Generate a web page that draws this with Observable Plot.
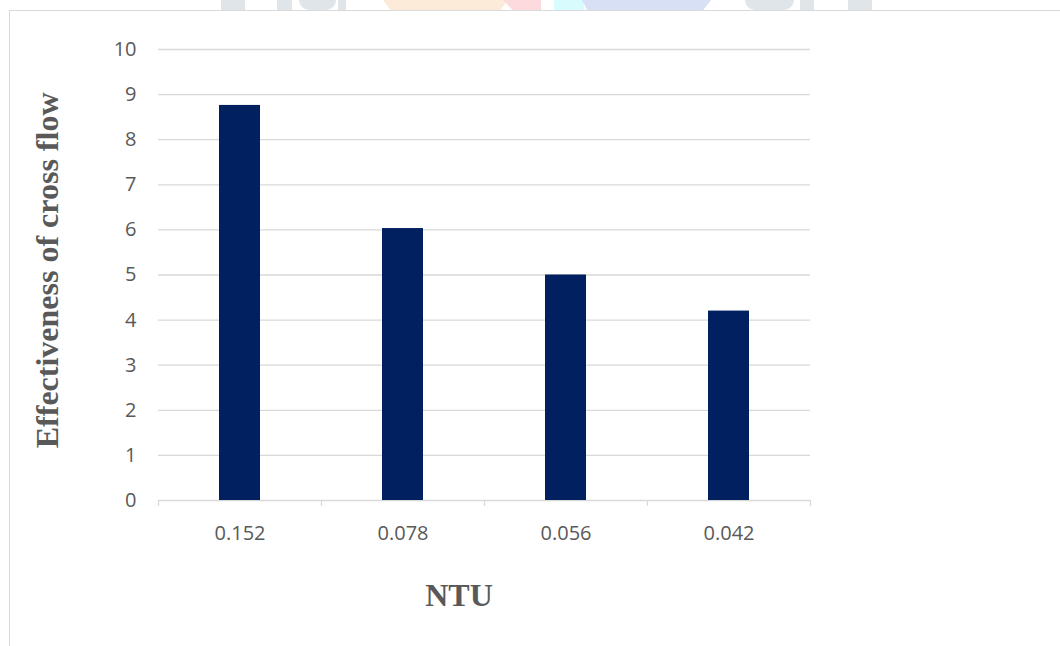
<!DOCTYPE html>
<html>
<head>
<meta charset="utf-8">
<script src="https://cdn.jsdelivr.net/npm/d3@7"></script>
<script src="https://cdn.jsdelivr.net/npm/@observablehq/plot@0.6"></script>
<style>
  html, body { margin: 0; padding: 0; background: #fff; }
  #wrap { position: relative; width: 1060px; height: 646px; overflow: hidden; }
  #frame { position: absolute; left: 9px; top: 10px; right: -2px; bottom: -2px;
           border-left: 1.5px solid #d9d9d9; border-top: 1.5px solid #d9d9d9; }
  #mark { position: absolute; left: 0; top: 0; width: 1060px; height: 10px; }
  #mark span { position: absolute; top: 0; height: 10px; }
  #chart { position: absolute; left: 0; top: 0; }
</style>
</head>
<body>
<div id="wrap">
  <div id="mark">
    <span style="left:221px;width:24px;background:#dfe5e8"></span>
    <span style="left:277px;width:15px;background:#dfe5e8"></span>
    <span style="left:299px;width:37px;background:#dfe5e8;border-radius:0 0 18px 18px"></span>
    <span style="left:338px;width:8px;background:#dfe5e8"></span>
    <span style="left:383px;width:125px;background:#fdebd9;clip-path:polygon(0 0,100% 0,94% 100%,6% 100%)"></span>
    <span style="left:503px;width:38px;background:#fddadd;clip-path:polygon(0 0,100% 0,100% 100%,25% 100%)"></span>
    <span style="left:554px;width:30px;background:#d8fbfd"></span>
    <span style="left:582px;width:129px;background:#d8e0f5;clip-path:polygon(0 0,100% 0,94% 100%,4% 100%)"></span>
    <span style="left:745px;width:49px;background:#dfe5e8;border-radius:0 0 22px 22px"></span>
    <span style="left:800px;width:14px;background:#dfe5e8"></span>
    <span style="left:848px;width:24px;background:#dfe5e8"></span>
  </div>
  <div id="frame"></div>
  <div id="chart"></div>
</div>
<script>
// NTU categories and the measured effectiveness of the cross-flow exchanger
const ntu = ["0.152", "0.078", "0.056", "0.042"];
const effectiveness = [8.76, 6.03, 5.0, 4.2];
const yTicks = [0, 1, 2, 3, 4, 5, 6, 7, 8, 9, 10];

const data = ntu.map((n, i) => ({ntu: n, eff: effectiveness[i]}));

const W = 1060, H = 646;
const mL = 158, mR = 250, mT = 49, mB = 146;
const step = (W - mL - mR) / ntu.length;

const grey = "#595959";
const serif = "'Liberation Serif', 'Times New Roman', serif";

const chart = Plot.plot({
  width: W,
  height: H,
  marginLeft: mL,
  marginRight: mR,
  marginTop: mT,
  marginBottom: mB,
  style: {fontFamily: "'Open Sans', sans-serif", background: "transparent", overflow: "visible"},
  x: {type: "band", domain: ntu, padding: 0, axis: null},
  y: {domain: [0, 10], axis: null},
  marks: [
    // horizontal gridlines (the 0 line doubles as the category axis)
    Plot.ruleY(yTicks, {y: d => d, stroke: "#d9d9d9", strokeWidth: 1.3}),
    // category boundary ticks below the axis
    Plot.ruleX(ntu, {x: d => d, y1: 0, y2: 0, insetBottom: -6, dx: -step / 2, stroke: "#d9d9d9", strokeWidth: 1.3}),
    Plot.ruleX(ntu.slice(-1), {x: d => d, y1: 0, y2: 0, insetBottom: -6, dx: step / 2, stroke: "#d9d9d9", strokeWidth: 1.3}),
    // bars
    Plot.barY(data, {x: "ntu", y: "eff", fill: "#002060", insetLeft: 61, insetRight: 61}),
    // y tick labels
    Plot.text(yTicks, {y: d => d, text: d => String(d), frameAnchor: "left", textAnchor: "end", dx: -22,
      fontSize: 20, fill: grey}),
    // x tick labels
    Plot.text(ntu, {x: d => d, text: d => d, frameAnchor: "bottom", lineAnchor: "top", dy: 25,
      fontSize: 20, fill: grey}),
    // axis titles
    Plot.text(["NTU"], {text: d => d, frameAnchor: "bottom", lineAnchor: "bottom", dx: -25.5, dy: 105,
      fontFamily: serif, fontWeight: "bold", fontSize: 32, fill: grey}),
    Plot.text(["Effectiveness of cross flow"], {text: d => d, frameAnchor: "left", rotate: -90,
      textAnchor: "middle", lineAnchor: "bottom", dx: -101, dy: -4.6,
      fontFamily: serif, fontWeight: "bold", fontSize: 32, fill: grey})
  ]
});

document.getElementById("chart").appendChild(chart);
</script>
</body>
</html>
